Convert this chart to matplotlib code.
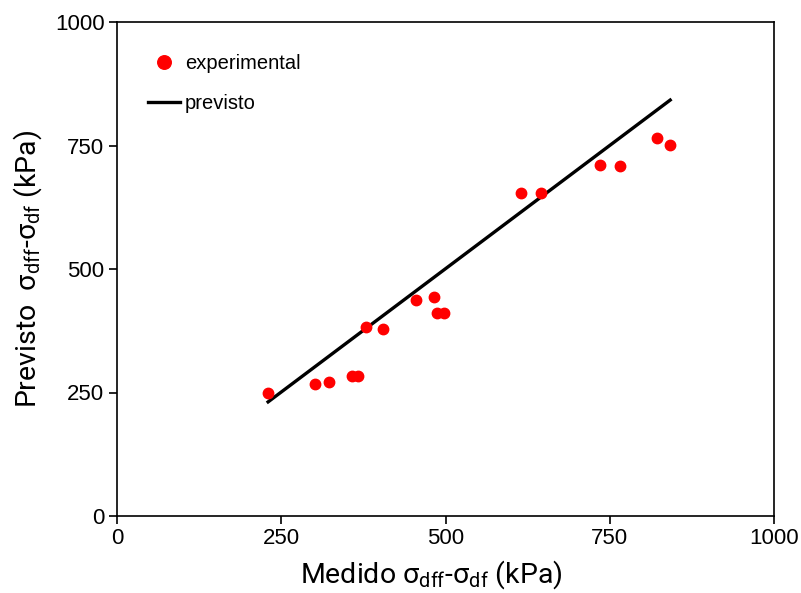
import matplotlib
matplotlib.use("Agg")
import matplotlib.pyplot as plt

# Data
medido = [230, 301, 323, 358, 367, 379, 405, 455, 482, 487, 498, 615, 645, 735, 766, 822, 842]
previsto_exp = [249, 267, 271, 283, 283, 383, 379, 437, 443, 411, 411, 654, 654, 711, 709, 765, 751]
linha_x = [230, 842]
linha_y = [231, 842]
ticks = [0, 250, 500, 750, 1000]

plt.rcParams['font.family'] = ['Liberation Sans', 'DejaVu Sans']
plt.rcParams['mathtext.fontset'] = 'custom'
plt.rcParams['mathtext.rm'] = 'Roboto'
plt.rcParams['mathtext.it'] = 'Roboto'

fig = plt.figure(figsize=(8.01, 5.93), dpi=100)
ax = fig.add_axes([117 / 801, 1 - 516 / 593, (774 - 117) / 801, (516 - 22) / 593])

ax.plot(medido, previsto_exp, 'o', color='red', markersize=7.5, label='experimental', zorder=3)
ax.plot(linha_x, linha_y, '-', color='black', linewidth=2.4, label='previsto', zorder=2)

ax.set_xlim(0, 1000)
ax.set_ylim(0, 1000)
ax.set_xticks(ticks)
ax.set_yticks(ticks)
ax.tick_params(labelsize=16, direction='out', length=6, width=1.2, pad=3)
for s in ax.spines.values():
    s.set_linewidth(1.2)

ax.set_xlabel('Medido σ$_{\\mathrm{dff}}$-σ$_{\\mathrm{df}}$ (kPa)', fontsize=20.5, family='Roboto', labelpad=8)
ax.xaxis.set_label_coords(0.479, -0.085, transform=ax.transAxes)
ax.xaxis.label.set_va('top')
ax.set_ylabel('Previsto  σ$_{\\mathrm{dff}}$-σ$_{\\mathrm{df}}$ (kPa)', fontsize=20.5, family='Roboto', labelpad=8)

ax.legend(loc='upper left', frameon=False, fontsize=14.5, bbox_to_anchor=(0.019, 0.971),
          handlelength=1.6, handletextpad=0.25, labelspacing=1.0, markerscale=1.3)

fig.savefig('out.png', dpi=100)
